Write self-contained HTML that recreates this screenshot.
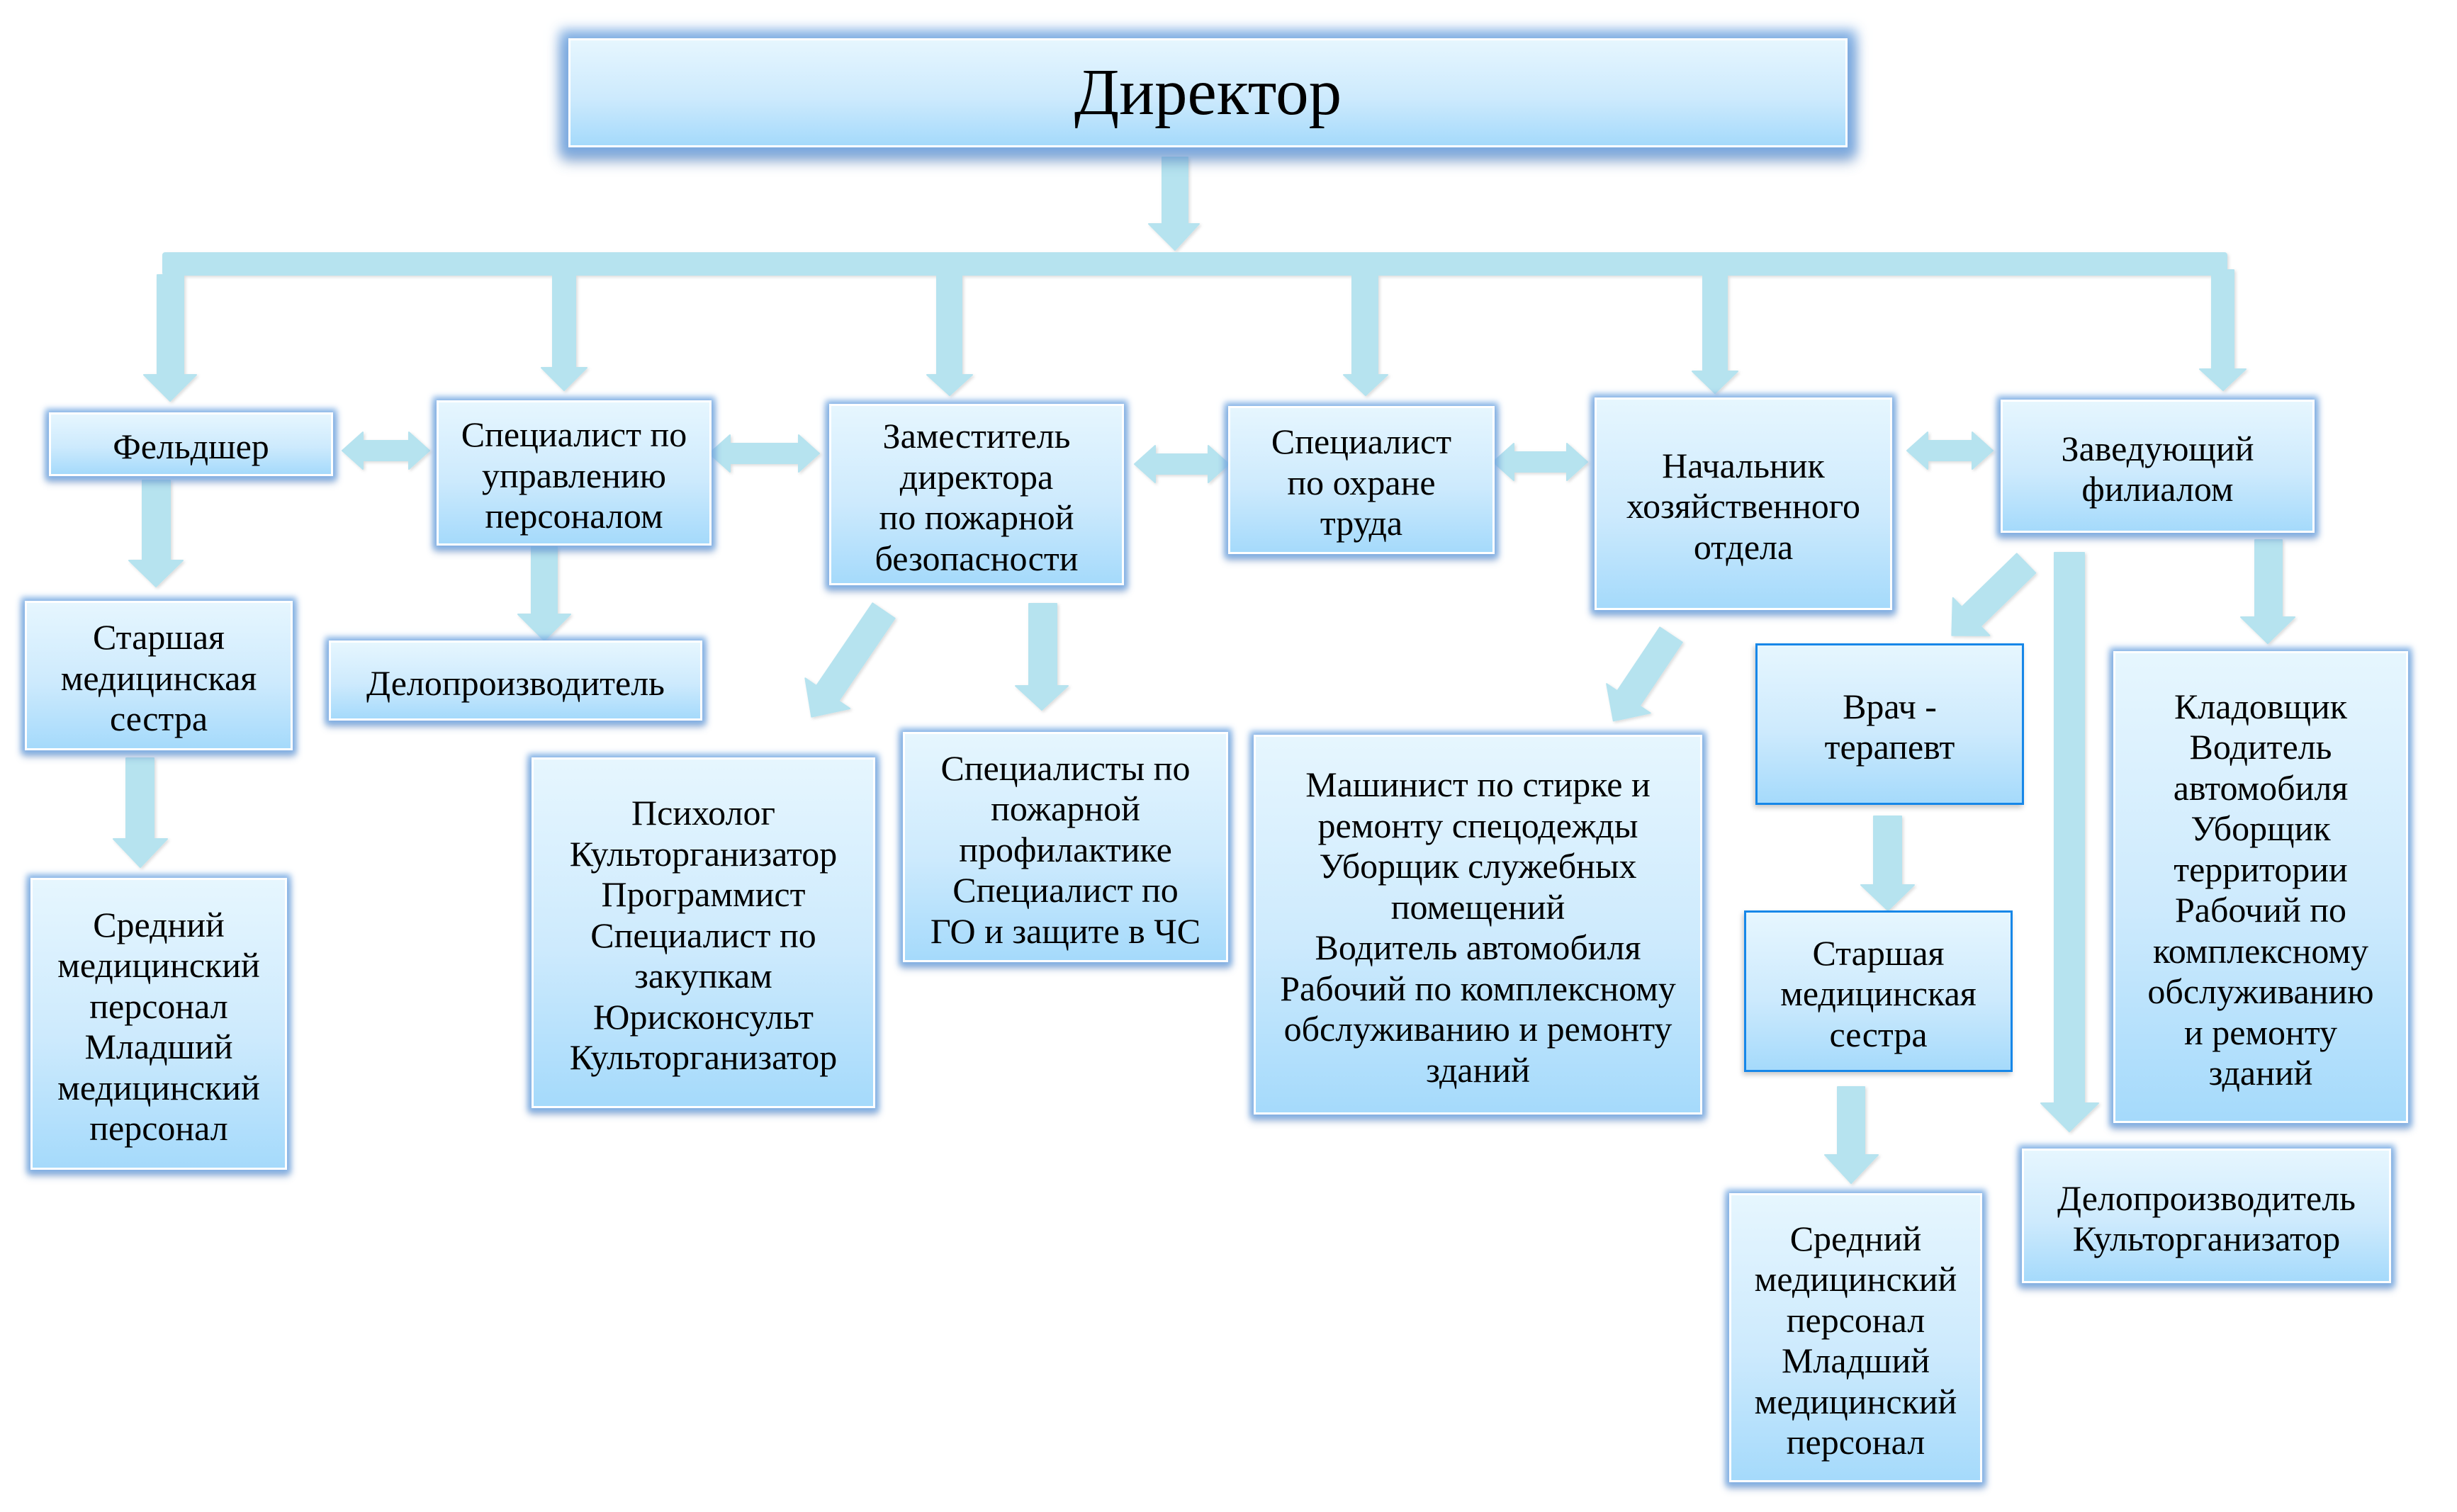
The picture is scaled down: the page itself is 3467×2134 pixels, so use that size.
<!DOCTYPE html>
<html>
<head>
<meta charset="utf-8">
<style>
  html,body{margin:0;padding:0;background:#fff;}
  #c{position:relative;width:3467px;height:2134px;overflow:hidden;background:#fff;}
  svg{position:absolute;left:0;top:0;}
  .b{position:absolute;box-sizing:border-box;border:3px solid #fff;padding-top:8px;
     background:linear-gradient(180deg,#e6f6fe 0%,#cdeafd 55%,#a5dafb 100%);
     box-shadow:0 0 8px 5px rgba(118,170,228,0.85),0 6px 10px 3px rgba(70,110,170,0.45);
     display:flex;align-items:center;justify-content:center;text-align:center;
     font-family:"Liberation Serif","DejaVu Serif",serif;font-size:50px;line-height:57.5px;color:#000;white-space:nowrap;}
  .bb{border:3px solid #1787e8;box-shadow:-2px 4px 7px rgba(0,0,0,0.22);}
  .dir{font-size:93px;line-height:100px;padding-top:0;
     box-shadow:0 0 16px 12px rgba(112,165,225,0.85),0 12px 18px 8px rgba(60,100,160,0.45);}
</style>
</head>
<body>
<div id="c">
<svg width="3467" height="2134" viewBox="0 0 3467 2134">
  <defs>
    <filter id="sh" x="-10%" y="-10%" width="130%" height="130%">
      <feDropShadow dx="2" dy="2" stdDeviation="2" flood-color="#000" flood-opacity="0.14"/>
    </filter>
  </defs>
  <g fill="#b6e3ef" stroke="#b6e3ef" stroke-width="2" stroke-linejoin="round" filter="url(#sh)">
    <rect x="230" y="357" width="2912" height="31" rx="3"/>
    <path d="M1640 222 L1676 222 L1676 316 L1692 316 L1658 353 L1621 316 L1640 316 Z"/>
    <path d="M222 388 L259 388 L259 529 L277 529 L240 566 L203 529 L222 529 Z"/>
    <path d="M780 381 L812 381 L812 519 L828 519 L796 551 L764 519 L780 519 Z"/>
    <path d="M1322 388 L1357 388 L1357 529 L1372 529 L1340 558 L1308 529 L1322 529 Z"/>
    <path d="M1908 388 L1944 388 L1944 529 L1958 529 L1927 558 L1896 529 L1908 529 Z"/>
    <path d="M2403 388 L2437 388 L2437 524 L2452 524 L2420 555 L2388 524 L2403 524 Z"/>
    <path d="M3121 381 L3152 381 L3152 521 L3169 521 L3137 551 L3104 521 L3121 521 Z"/>
    <path d="M201 678 L240 678 L240 791 L258 791 L220 828 L182 791 L201 791 Z"/>
    <path d="M750 772 L786 772 L786 867 L805 867 L768 904 L731 867 L750 867 Z"/>
    <path d="M178 1070 L217 1070 L217 1184 L236 1184 L198 1224 L160 1184 L178 1184 Z"/>
    <path d="M1452 852 L1491 852 L1491 968 L1507 968 L1470 1002 L1433 968 L1452 968 Z"/>
    <path d="M2644 1152 L2683 1152 L2683 1249 L2701 1249 L2664 1285 L2626 1249 L2644 1249 Z"/>
    <path d="M2593 1534 L2631 1534 L2631 1630 L2650 1630 L2612 1670 L2575 1630 L2593 1630 Z"/>
    <path d="M2899 780 L2941 780 L2941 1557 L2961 1557 L2920 1597 L2880 1557 L2899 1557 Z"/>
    <path d="M3182 762 L3220 762 L3220 871 L3238 871 L3200 908 L3162 871 L3182 871 Z"/>
    <g transform="translate(1247,862) rotate(124.2)">
      <path d="M0 -19 L141 -19 L141 -38 L181 0 L141 38 L141 19 L0 19 Z"/>
    </g>
    <g transform="translate(2358,896) rotate(123.8)">
      <path d="M0 -19 L108 -19 L108 -37 L146 0 L108 37 L108 19 L0 19 Z"/>
    </g>
    <g transform="translate(2859,795) rotate(135.8)">
      <path d="M0 -19 L108 -19 L108 -37 L146 0 L108 37 L108 19 L0 19 Z"/>
    </g>
    <path d="M483 636 L512 610 L512 622 L577 622 L577 610 L606 636 L577 662 L577 650 L512 650 L512 662 Z"/>
    <path d="M1001 640 L1030 614 L1030 626 L1127 626 L1127 614 L1156 640 L1127 666 L1127 654 L1030 654 L1030 666 Z"/>
    <path d="M1601 655 L1630 629 L1630 641 L1705 641 L1705 629 L1734 655 L1705 681 L1705 669 L1630 669 L1630 681 Z"/>
    <path d="M2107 652 L2136 626 L2136 638 L2211 638 L2211 626 L2240 652 L2211 678 L2211 666 L2136 666 L2136 678 Z"/>
    <path d="M2691 636 L2720 610 L2720 622 L2783 622 L2783 610 L2812 636 L2783 662 L2783 650 L2720 650 L2720 662 Z"/>
  </g>
</svg>

<div class="b dir" style="left:802px;top:54px;width:1805px;height:154px;">Директор</div>

<div class="b" style="left:69px;top:582px;width:401px;height:90px;">Фельдшер</div>
<div class="b" style="left:616px;top:565px;width:388px;height:205px;">Специалист по<br>управлению<br>персоналом</div>
<div class="b" style="left:1170px;top:570px;width:416px;height:256px;">Заместитель<br>директора<br>по пожарной<br>безопасности</div>
<div class="b" style="left:1733px;top:573px;width:376px;height:209px;">Специалист<br>по охране<br>труда</div>
<div class="b" style="left:2250px;top:561px;width:420px;height:300px;">Начальник<br>хозяйственного<br>отдела</div>
<div class="b" style="left:2823px;top:564px;width:443px;height:188px;">Заведующий<br>филиалом</div>

<div class="b" style="left:35px;top:848px;width:378px;height:211px;">Старшая<br>медицинская<br>сестра</div>
<div class="b" style="left:43px;top:1239px;width:362px;height:412px;">Средний<br>медицинский<br>персонал<br>Младший<br>медицинский<br>персонал</div>
<div class="b" style="left:464px;top:904px;width:527px;height:113px;">Делопроизводитель</div>
<div class="b" style="left:750px;top:1069px;width:485px;height:495px;">Психолог<br>Культорганизатор<br>Программист<br>Специалист по<br>закупкам<br>Юрисконсульт<br>Культорганизатор</div>
<div class="b" style="left:1274px;top:1033px;width:459px;height:325px;">Специалисты по<br>пожарной<br>профилактике<br>Специалист по<br>ГО и защите в ЧС</div>
<div class="b" style="left:1769px;top:1037px;width:633px;height:536px;">Машинист по стирке и<br>ремонту спецодежды<br>Уборщик служебных<br>помещений<br>Водитель автомобиля<br>Рабочий по комплексному<br>обслуживанию и ремонту<br>зданий</div>

<div class="b bb" style="left:2477px;top:908px;width:379px;height:228px;">Врач -<br>терапевт</div>
<div class="b bb" style="left:2461px;top:1285px;width:379px;height:228px;">Старшая<br>медицинская<br>сестра</div>
<div class="b" style="left:2440px;top:1684px;width:357px;height:408px;">Средний<br>медицинский<br>персонал<br>Младший<br>медицинский<br>персонал</div>
<div class="b" style="left:2982px;top:919px;width:416px;height:666px;">Кладовщик<br>Водитель<br>автомобиля<br>Уборщик<br>территории<br>Рабочий по<br>комплексному<br>обслуживанию<br>и ремонту<br>зданий</div>
<div class="b" style="left:2853px;top:1621px;width:521px;height:190px;">Делопроизводитель<br>Культорганизатор</div>
</div>
</body>
</html>
